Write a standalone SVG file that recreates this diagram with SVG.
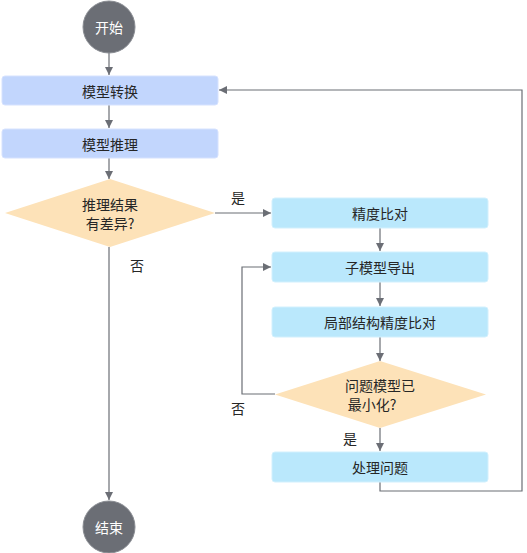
<svg xmlns="http://www.w3.org/2000/svg" width="527" height="553" viewBox="0 0 527 553">
<defs>
<marker id="ah" viewBox="0 0 10 10" refX="10" refY="5" markerWidth="8" markerHeight="8" markerUnits="userSpaceOnUse" orient="auto">
<path d="M0,0 L10,5 L0,10 z" fill="#6b6e75"/>
</marker>
<style>
text{font-family:"Noto Sans CJK SC","Noto Sans",sans-serif;font-size:14px;fill:#262626;text-anchor:middle;dominant-baseline:central}
.term{fill:#6b6e75;stroke:#8a8d93;stroke-width:1}
.term-t{fill:#ffffff}
.b1{fill:#c2d6fd;stroke:#d6e2fe;stroke-width:1}
.b2{fill:#bae8fc;stroke:#d2f0fd;stroke-width:1}
.dia{fill:#fde2b8}
.ln{fill:none;stroke:#6b6e75;stroke-width:1.2}
</style>
</defs>
<g id="connectors">
<path class="ln" d="M109,53 L109,75" marker-end="url(#ah)"/>
<path class="ln" d="M109,105 L109,128" marker-end="url(#ah)"/>
<path class="ln" d="M109,158 L109,179" marker-end="url(#ah)"/>
<path class="ln" d="M215,213 L271,213" marker-end="url(#ah)"/>
<path class="ln" d="M109,247 L109,500" marker-end="url(#ah)"/>
<path class="ln" d="M380,228 L380,251" marker-end="url(#ah)"/>
<path class="ln" d="M380,282 L380,306" marker-end="url(#ah)"/>
<path class="ln" d="M380,337 L380,361" marker-end="url(#ah)"/>
<path class="ln" d="M275,394 L242,394 L242,267 L271,267" marker-end="url(#ah)"/>
<path class="ln" d="M380,428 L380,451" marker-end="url(#ah)"/>
<path class="ln" d="M380,482 L380,491 L522,491 L522,90 L219,90" marker-end="url(#ah)"/>
<text x="238" y="197">是</text>
<text x="137" y="265">否</text>
<text x="238" y="408">否</text>
<text x="350" y="438">是</text>
</g>
<g id="start">
<circle class="term" cx="109" cy="27" r="26"/>
<text class="term-t" x="109" y="27">开始</text>
</g>
<g id="convert">
<rect class="b1" x="2" y="76" width="216" height="29" rx="3"/>
<text x="110" y="90.5">模型转换</text>
</g>
<g id="infer">
<rect class="b1" x="2" y="129" width="216" height="29" rx="3"/>
<text x="110" y="143.5">模型推理</text>
</g>
<g id="diff">
<polygon class="dia" points="5,213 110,179 215,213 110,247"/>
<text x="110" y="204">推理结果</text>
<text x="110" y="223">有差异?</text>
</g>
<g id="compare">
<rect class="b2" x="272" y="198" width="216" height="30" rx="3"/>
<text x="380" y="213">精度比对</text>
</g>
<g id="export">
<rect class="b2" x="272" y="252" width="216" height="30" rx="3"/>
<text x="380" y="267">子模型导出</text>
</g>
<g id="local">
<rect class="b2" x="272" y="307" width="216" height="30" rx="3"/>
<text x="380" y="322">局部结构精度比对</text>
</g>
<g id="minimal">
<polygon class="dia" points="275,394.5 380,361 486,394.5 380,428"/>
<text x="380" y="385">问题模型已</text>
<text x="372" y="404">最小化?</text>
</g>
<g id="handle">
<rect class="b2" x="272" y="452" width="216" height="30" rx="3"/>
<text x="380" y="467">处理问题</text>
</g>
<g id="end">
<circle class="term" cx="109" cy="527" r="26"/>
<text class="term-t" x="109" y="527">结束</text>
</g>
</svg>
